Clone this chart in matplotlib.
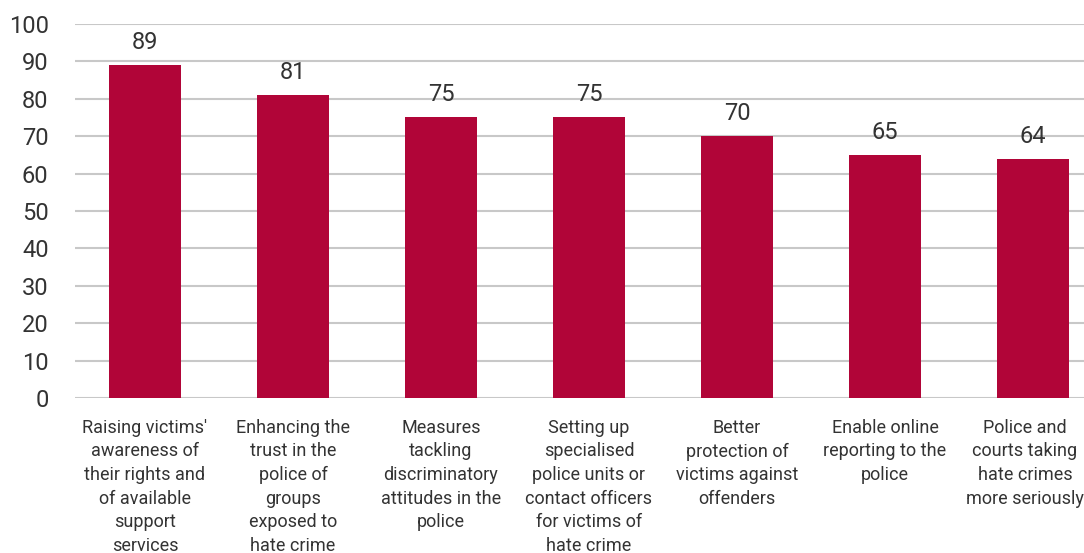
import matplotlib
matplotlib.use("Agg")
import matplotlib.pyplot as plt
import matplotlib.transforms as mtrans

# measures and share of respondents (%)
categories = [
    "Raising victims'\nawareness of\ntheir rights and\nof available\nsupport\nservices",
    "Enhancing the\ntrust in the\npolice of\ngroups\nexposed to\nhate crime",
    "Measures\ntackling\ndiscriminatory\nattitudes in the\npolice",
    "Setting up\nspecialised\npolice units or\ncontact officers\nfor victims of\nhate crime",
    "Better\nprotection of\nvictims against\noffenders",
    "Enable online\nreporting to the\npolice",
    "Police and\ncourts taking\nhate crimes\nmore seriously",
]
values = [89, 81, 75, 75, 70, 65, 64]
yticks = [0, 10, 20, 30, 40, 50, 60, 70, 80, 90, 100]

plt.rcParams['font.family'] = ['Roboto', 'DejaVu Sans']

fig = plt.figure(figsize=(10.84, 5.53), dpi=100)
ax = fig.add_axes([75 / 1084, (553 - 398) / 553, (1084 - 75) / 1084, (398 - 24) / 553])

x = list(range(len(values)))
ax.bar(x, values, width=0.486, color='#B10538', zorder=3)

for xi, v in zip(x, values):
    ax.annotate(str(v), (xi, v), xytext=(0, 8), textcoords='offset points',
                ha='center', va='bottom', fontsize=17, color='#333333')

ax.set_xlim(-0.473, 6.345)
ax.set_ylim(0, 100)
ax.set_yticks(yticks)
ax.yaxis.grid(True, color='#C8C8C8', linewidth=1.5, zorder=0)
ax.set_xticks(x)
ax.set_xticklabels(categories, fontsize=13, color='#333333', linespacing=1.4)
ax.tick_params(axis='x', length=0, pad=15)
ax.tick_params(axis='y', length=0, pad=19, labelsize=17, labelcolor='#333333')
for s in ax.spines.values():
    s.set_visible(False)

# last label would run off the right edge, nudge it left a bit
lab = ax.get_xticklabels()[-1]
lab.set_transform(lab.get_transform() + mtrans.ScaledTranslation(-8 / 100, 0, fig.dpi_scale_trans))

fig.savefig('out.png', dpi=100)
